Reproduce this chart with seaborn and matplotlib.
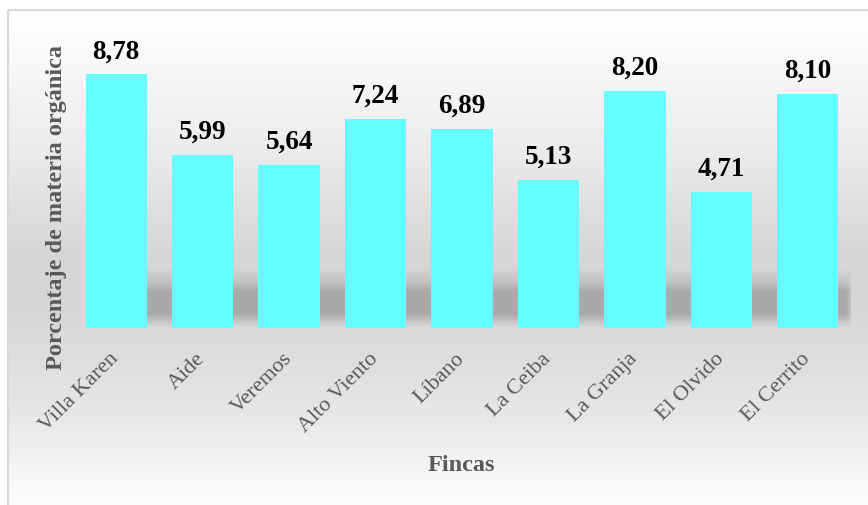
import numpy as np
import pandas as pd
import matplotlib
matplotlib.use("Agg")
import matplotlib.pyplot as plt
import seaborn as sns
from matplotlib.patches import Rectangle

fincas = ["Villa Karen", "Aide", "Veremos", "Alto Viento", "Líbano",
          "La Ceiba", "La Granja", "El Olvido", "El Cerrito"]
valores = [8.78, 5.99, 5.64, 7.24, 6.89, 5.13, 8.20, 4.71, 8.10]
etiquetas = [f"{v:.2f}".replace(".", ",") for v in valores]

sns.set_theme(style="white")
plt.rcParams["font.family"] = ["Liberation Serif", "DejaVu Serif"]

W, H = 868, 506
fig = plt.figure(figsize=(W / 100, H / 100), dpi=100)

# ---- background gradient and frame ----
bg = fig.add_axes([0, 0, 1, 1], zorder=0)
bg.set_xlim(0, W)
bg.set_ylim(H, 0)
bg.axis("off")
ys = np.linspace(10, H, 500)
g = np.interp(ys, [10, 40, 150, 250, 310, 420, 490, 506],
              [255, 252, 236, 215, 214, 232, 250, 252]) / 255.0
img = np.repeat(np.stack([g, g, g], axis=-1)[:, None, :], 2, axis=1)
bg.imshow(img, extent=(7, W, H, 10), aspect="auto", interpolation="bilinear")
bg.add_patch(Rectangle((7.5, 10.5), W, H, fill=False, edgecolor="#d9d9d9", lw=1.5))

# ---- main axes ----
ax = fig.add_axes([73 / W, 177 / H, (851 - 73) / W, 289.3 / H], zorder=1)
ax.patch.set_alpha(0)

df = pd.DataFrame({"Finca": fincas, "Valor": valores})
sns.barplot(data=df, x="Finca", y="Valor", color="#66FFFF", saturation=1,
            width=0.71, linewidth=0, ax=ax)
for p in ax.patches:
    p.set_zorder(3)

# soft floor shadow behind bars
pxy = np.linspace(268, 329, 80)
alpha_v = np.interp(pxy, [268, 281, 293, 315, 323, 329], [0, 0.08, 0.21, 0.21, 0.08, 0.0])
x0, x1 = 0.0, len(fincas) - 1 + 0.355 + 17 / 86.4
xs = np.linspace(x0, x1, 200)
alpha_h = np.interp(xs, [x0, x1 - 0.08, x1], [1, 1, 0])
A = alpha_v[:, None] * alpha_h[None, :]
shadow = np.zeros(A.shape + (4,))
shadow[..., 3] = A
ax.imshow(shadow, extent=(x0, x1, 0, (329 - 268) / 28.93), origin="upper",
          aspect="auto", interpolation="bilinear", zorder=2)
ax.set_xlim(-0.5, len(fincas) - 0.5)
ax.set_ylim(0, 10)

for i, (v, t) in enumerate(zip(valores, etiquetas)):
    ax.annotate(t, (i, v), xytext=(0, 12), textcoords="offset points",
                ha="center", va="baseline", fontsize=19.5, fontweight="bold",
                color="black")

for s in ax.spines.values():
    s.set_visible(False)
ax.set_yticks([])
ax.tick_params(axis="x", length=0, pad=19.5)
ax.set_xticks(range(len(fincas)))
ax.set_xticklabels(fincas, rotation=45, ha="right", va="center",
                   rotation_mode="anchor", fontsize=16, color="#595959")

ax.set_xlabel("Fincas", fontsize=17.5, fontweight="bold", color="#595959")
ax.xaxis.label.set_va("center")
ax.xaxis.set_label_coords((461 - 73) / 778, (329 - 466) / 289.3)
ax.set_ylabel("Porcentaje de materia orgánica", fontsize=17.5, fontweight="bold",
              color="#595959")
ax.yaxis.label.set_va("center")
ax.yaxis.set_label_coords((57 - 73) / 778, (329 - 207) / 289.3)

fig.savefig("out.png", dpi=100)
